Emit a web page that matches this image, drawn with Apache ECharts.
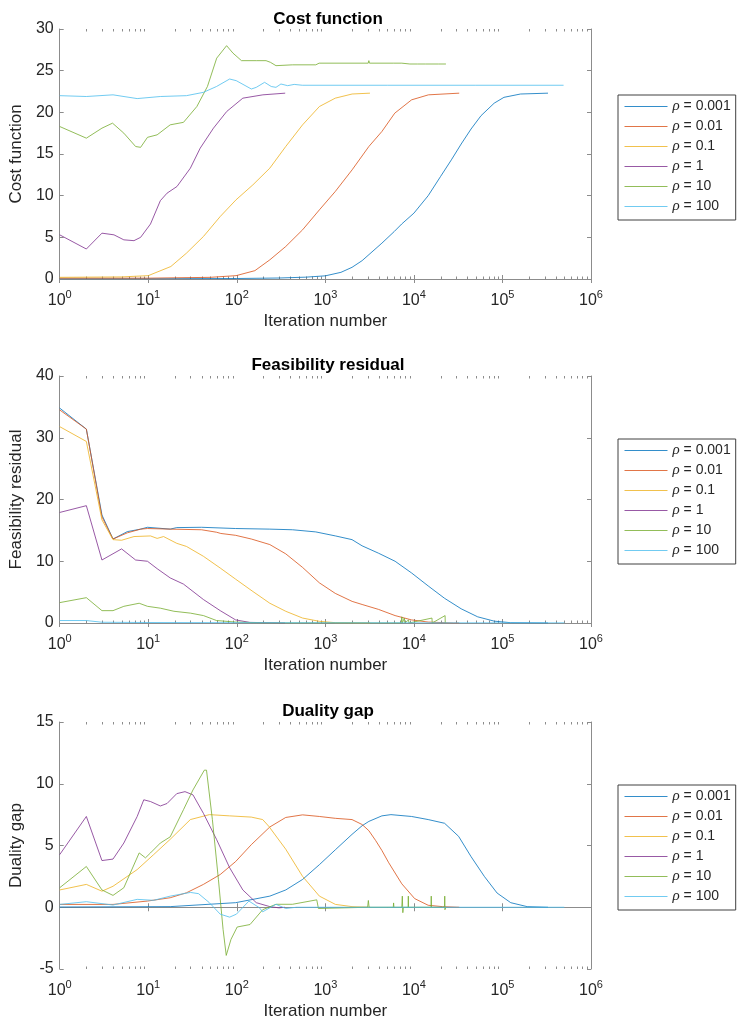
<!DOCTYPE html>
<html>
<head>
<meta charset="utf-8">
<script src="https://cdn.jsdelivr.net/npm/echarts@6/dist/echarts.min.js"></script>
<style>html,body{margin:0;padding:0;background:#fff}#c{width:737px;height:1021px}</style>
</head>
<body>
<div id="c"></div>
<script>
// ---------- data (iteration, value) ----------
const seriesNames = ['ρ = 0.001', 'ρ = 0.01', 'ρ = 0.1', 'ρ = 1', 'ρ = 10', 'ρ = 100'];
const plotTitles = ['Cost function', 'Feasibility residual', 'Duality gap'];
const yAxisNames = ['Cost function', 'Feasibility residual', 'Duality gap'];
const xAxisName = 'Iteration number';
const yRanges = [[0, 30, 5], [0, 40, 10], [-5, 15, 5]];

// Cost function
const costR0001 = [[1,0.02],[10,0.03],[100,0.06],[300,0.12],[600,0.22],[1000,0.38],[1500,0.8],[2000,1.4],[2600,2.2],[4350,4.3],[6000,5.7],[7280,6.6],[10000,7.9],[14500,10.0],[20000,12.3],[26500,14.3],[34200,16.2],[44200,18.0],[57300,19.6],[80700,21.1],[104000,21.8],[160000,22.2],[327000,22.3]];
const costR001 = [[1,0.1],[10,0.1],[50,0.2],[98,0.4],[160,1.0],[236,2.3],[357,3.9],[553,5.9],[857,8.3],[1294,10.5],[2006,13.1],[3100,15.9],[4350,17.7],[6080,19.9],[9420,21.5],[14600,22.1],[32500,22.3]];
const costR01 = [[1,0.2],[5,0.25],[10,0.4],[18,1.5],[27,3.1],[42,5.1],[65,7.5],[98,9.5],[152,11.3],[236,13.3],[357,15.9],[553,18.5],[857,20.7],[1294,21.7],[2006,22.2],[3190,22.3]];
const costR1 = [[1,5.3],[2,3.6],[3,5.5],[4.1,5.3],[5.3,4.7],[6.9,4.6],[8.2,5.0],[10.6,6.6],[13.7,9.4],[16.3,10.3],[21.1,11.1],[29.9,13.3],[38.6,15.7],[54.5,18.1],[76.9,20.1],[117,21.7],[197,22.1],[352,22.3]];
const costR10 = [[1,18.3],[2,16.9],[3,18.1],[3.95,18.7],[5.3,17.5],[7.2,15.9],[8.2,15.8],[9.8,17.0],[12.6,17.3],[17.7,18.5],[25,18.8],[35.4,20.7],[46.6,23.1],[59.3,26.5],[76.7,28.0],[90.6,27.1],[113,26.2],[166,26.2],[214,26.2],[240,26.0],[277,25.6],[425,25.7],[780,25.7],[850,25.9],[3050,25.9],[3100,26.2],[3150,25.9],[5850,25.9],[5900,26.1],[5950,25.9],[7300,25.9],[7400,25.8],[9000,25.8],[9100,26.0],[9200,25.8],[11000,25.8],[11100,26.0],[11200,25.8],[13500,25.8],[13600,26.0],[13700,25.8],[16000,25.8],[16100,26.0],[16200,25.8],[19000,25.8],[19100,26.0],[19200,25.8],[23000,25.8]];
const costR100 = [[1,22.0],[2,21.9],[4,22.1],[7.5,21.65],[13.7,21.9],[27,22.0],[42,22.4],[59,23.1],[83,24.0],[98.6,23.8],[146,22.8],[166,23.0],[206,23.6],[245,23.1],[277,23.0],[315,23.4],[375,23.2],[445,23.35],[550,23.25],[5000,23.25],[50000,23.25],[490000,23.25]];

// Feasibility residual
const feasR0001 = [[1,34.8],[2,31.4],[3,17.5],[4,13.6],[5.8,14.8],[8.2,15.2],[9.8,15.5],[17.7,15.2],[21,15.45],[40,15.5],[97,15.3],[236,15.2],[425,15.1],[780,14.75],[1300,14.1],[2000,13.5],[2600,12.5],[3990,11.3],[6130,10.0],[9420,8.1],[14500,6.0],[22200,4.0],[34200,2.3],[52500,1.0],[80700,0.3],[124000,0.05],[327000,0]];
const feasR001 = [[1,34.5],[2,31.4],[3,17.2],[4,13.6],[5.8,14.6],[8.2,15.2],[9.8,15.3],[17.7,15.2],[40,15.1],[59,14.7],[66,14.5],[68,14.7],[97,14.2],[146,13.6],[236,12.7],[357,11.2],[553,9.0],[857,6.5],[1294,4.8],[2006,3.5],[2600,3.0],[3990,2.2],[6130,1.2],[9420,0.5],[14500,0.15],[28000,0],[32500,0]];
const feasR01 = [[1,31.8],[2,29.4],[3,16.7],[4,13.5],[5,13.4],[6.9,14.0],[10.6,14.1],[12.6,13.7],[14.9,14.0],[21,12.9],[27,12.4],[42,10.8],[65,8.9],[97,7.1],[152,5.1],[236,3.2],[357,1.9],[553,0.8],[857,0.27],[1300,0.05],[3200,0]];
const feasR1 = [[1,17.9],[2,19.0],[3,10.2],[5,12.0],[7.2,10.2],[9.8,10.0],[12.6,8.8],[17.7,7.3],[25,6.3],[42,3.8],[65,2.0],[97,0.5],[140,0.1],[350,0]];
const feasR10 = [[1,3.3],[2,4.1],[3,2.0],[4,2.0],[5.3,2.7],[7.9,3.2],[9.8,2.7],[13.7,2.4],[19.5,1.9],[29.9,1.6],[42,1.2],[59,0.4],[97,0.15],[200,0.02],[7200,0],[7300,1.0],[7400,0],[7800,0.8],[7900,0],[8700,0.5],[8800,0],[16000,0.8],[16100,0],[22500,1.2],[22600,0],[23000,0]];
const feasR100 = [[1,0.4],[2,0.4],[3,0.12],[10,0.08],[100,0.05],[1000,0.03],[500000,0.02]];

// Duality gap
const gapR0001 = [[1,0.02],[17.7,0.05],[97,0.37],[236,0.9],[357,1.4],[553,2.25],[857,3.45],[1300,4.66],[2000,5.9],[2600,6.6],[3100,6.95],[4350,7.4],[5500,7.5],[9420,7.35],[14500,7.1],[22200,6.8],[32000,5.74],[44200,4.1],[62400,2.5],[87000,1.15],[124000,0.37],[190000,0.05],[327000,0]];
const gapR001 = [[1,0.23],[4,0.23],[9.8,0.5],[17.7,0.77],[27,1.17],[42,1.85],[65,2.65],[97,3.7],[146,5.07],[236,6.5],[357,7.27],[553,7.48],[857,7.35],[1300,7.2],[2000,7.1],[2600,6.7],[3100,6.2],[3700,5.4],[4350,4.6],[5200,3.6],[7300,1.9],[10200,0.7],[14500,0.16],[21000,0.05],[32500,0]];
const gapR01 = [[1,1.4],[2,1.85],[3,1.3],[4,1.7],[7.5,3.05],[11.5,4.26],[17.7,5.5],[29.9,7.1],[49,7.5],[83,7.4],[146,7.3],[196,7.1],[230,6.55],[357,4.7],[553,2.5],[857,0.9],[1300,0.23],[2000,0.05],[3200,0]];
const gapR1 = [[1,4.26],[2,7.35],[3,3.78],[4,3.9],[5.3,5.2],[7.5,7.35],[8.9,8.7],[10.6,8.56],[13.7,8.2],[16.3,8.4],[21,9.2],[26,9.36],[32,9.1],[42,7.6],[59,5.5],[83,3.2],[117,1.4],[166,0.37],[236,0.05],[300,-0.05],[350,0]];
const gapR10 = [[1,1.58],[2,3.3],[3,1.4],[4,0.96],[5.3,1.58],[7.9,4.4],[9.3,4.0],[10.6,4.4],[13.7,5.2],[17.7,5.7],[25,7.9],[32,9.5],[43,11.1],[45.5,11.1],[53,7.1],[62,2.25],[70,-1.8],[76,-3.9],[86,-2.6],[101,-1.6],[141,-1.4],[196,-0.2],[277,0.24],[425,0.24],[800,0.6],[835,-0.1],[3000,0],[3060,0.55],[3120,0],[5850,0],[5900,0.35],[5950,0],[7300,0],[7400,0.9],[7500,-0.44],[7600,0],[8600,0],[8650,0.9],[8700,0],[15600,0],[15700,0.9],[15800,0],[22200,0],[22300,0.9],[22400,-0.2],[23000,0]];
const gapR100 = [[1,0.23],[2,0.45],[4,0.18],[7.5,0.64],[11.5,0.56],[17.7,0.9],[30,1.2],[37,1.1],[49,0.37],[65,-0.56],[83,-0.8],[99,-0.56],[137,0.5],[180,-0.04],[196,-0.37],[277,0.24],[357,-0.1],[470,0],[5000,0],[500000,0]];

const plotData = [
  [costR0001, costR001, costR01, costR1, costR10, costR100],
  [feasR0001, feasR001, feasR01, feasR1, feasR10, feasR100],
  [gapR0001, gapR001, gapR01, gapR1, gapR10, gapR100]
];

// ---------- styling ----------
const colors = ['#0072BD', '#D95319', '#EDB120', '#7E2F8E', '#77AC30', '#4DBEEE'];
const FONT = 'Liberation Sans, Arial, Helvetica, sans-serif';
const AXIS = '#8c8c8c';
const TXT = '#262626';
const grids = [
  {left: 55, top: 29, width: 536, height: 250},
  {left: 55, top: 376, width: 536, height: 247},
  {left: 55, top: 722, width: 536, height: 248}
];
const titleTops = [6, 352, 698];
const legendTops = [95, 439, 785];

// minor tick positions of the log axis (2..9 x 10^k)
const minorTicks = [];
for (let k = 0; k < 6; k++) for (let m = 2; m <= 9; m++) minorTicks.push(m * Math.pow(10, k));

const option = {
  animation: false,
  backgroundColor: '#fff',
  color: colors,
  textStyle: {fontFamily: FONT},
  title: plotTitles.map((t, i) => ({
    text: t, left: 323, top: titleTops[i], textAlign: 'center',
    textStyle: {fontFamily: FONT, fontSize: 17, fontWeight: 'bold', color: '#000'}
  })),
  legend: legendTops.map(t => ({
    data: seriesNames.map((n, k) => ({
      name: n,
      itemStyle: {opacity: 0},
      lineStyle: {color: colors[k], width: 1, opacity: 0.8}
    })),
    orient: 'vertical', left: 618, top: t,
    itemWidth: 43, itemHeight: 15, itemGap: 5,
    padding: [4, 5, 6, 6], borderColor: '#404040', borderWidth: 1,
    backgroundColor: '#fff', selectedMode: false,
    formatter: n => '{i|ρ}{t|' + n.slice(1) + '}',
    textStyle: {
      color: TXT, fontSize: 14, fontFamily: FONT, lineHeight: 15,
      rich: {
        i: {fontFamily: 'Liberation Serif, DejaVu Serif, serif', fontStyle: 'italic', fontSize: 15, color: TXT, lineHeight: 15},
        t: {fontFamily: FONT, fontSize: 14, color: TXT, lineHeight: 15}
      }
    }
  })),
  grid: grids,
  xAxis: [],
  yAxis: [],
  series: []
};

grids.forEach((g, i) => {
  const logAxisBase = {
    type: 'log', logBase: 10, min: 1, max: 1000000, splitNumber: 6, gridIndex: i,
    axisLine: {show: true, lineStyle: {color: AXIS, width: 1}},
    axisTick: {show: true, inside: true, length: 4, lineStyle: {color: AXIS}},
    splitLine: {show: false}, minorTick: {show: false}
  };
  option.xAxis.push(Object.assign({}, logAxisBase, {
    position: 'bottom',
    name: xAxisName, nameLocation: 'middle', nameGap: 34,
    nameTextStyle: {fontFamily: FONT, fontSize: 17, color: TXT},
    axisLabel: {
      margin: 10, color: TXT,
      formatter: v => '{b|10}{s|' + Math.round(Math.log10(v)) + '}',
      rich: {
        b: {fontFamily: FONT, fontSize: 16, color: TXT, lineHeight: 20, verticalAlign: 'bottom'},
        s: {fontFamily: FONT, fontSize: 11, color: TXT, lineHeight: 11, verticalAlign: 'top'}
      }
    }
  }));
  option.xAxis.push(Object.assign({}, logAxisBase, {position: 'top', axisLabel: {show: false}}));
  const [ymin, ymax, yint] = yRanges[i];
  const yBase = {
    type: 'value', min: ymin, max: ymax, interval: yint, gridIndex: i,
    axisLine: {show: true, lineStyle: {color: AXIS, width: 1}},
    axisTick: {show: true, inside: true, length: 4, lineStyle: {color: AXIS}},
    splitLine: {show: false}
  };
  option.yAxis.push(Object.assign({}, yBase, {
    position: 'left',
    name: yAxisNames[i], nameLocation: 'middle', nameGap: 26,
    nameTextStyle: {fontFamily: FONT, fontSize: 17, color: TXT},
    axisLabel: {margin: 6, fontFamily: FONT, fontSize: 16, color: TXT}
  }));
  option.yAxis.push(Object.assign({}, yBase, {position: 'right', axisLabel: {show: false}}));

  plotData[i].forEach((d, k) => {
    option.series.push({
      type: 'line', name: seriesNames[k], data: d,
      xAxisIndex: i * 2, yAxisIndex: i * 2,
      symbol: 'none', showSymbol: false, smooth: false,
      lineStyle: {width: 1, color: colors[k], opacity: 0.8}, itemStyle: {color: colors[k]},
      emphasis: {disabled: true}, silent: true
    });
  });

  // minor ticks on bottom and top edges of the log axis
  option.series.push({
    type: 'custom', name: 'minor' + i, xAxisIndex: i * 2, yAxisIndex: i * 2,
    silent: true, clip: false,
    data: minorTicks.map(v => [v, ymin]),
    renderItem: (params, api) => {
      const v = api.value(0);
      const p0 = api.coord([v, ymin]);
      const p1 = api.coord([v, ymax]);
      const x = Math.round(p0[0]) + 0.5;
      return {
        type: 'group', children: [
          {type: 'line', shape: {x1: x, y1: p0[1], x2: x, y2: p0[1] - 2.5}, style: {stroke: AXIS, lineWidth: 1}},
          {type: 'line', shape: {x1: x, y1: p1[1], x2: x, y2: p1[1] + 2.5}, style: {stroke: AXIS, lineWidth: 1}}
        ]
      };
    }
  });
});

const chart = echarts.init(document.getElementById('c'), null, {renderer: 'canvas'});
chart.setOption(option);
</script>
</body>
</html>
